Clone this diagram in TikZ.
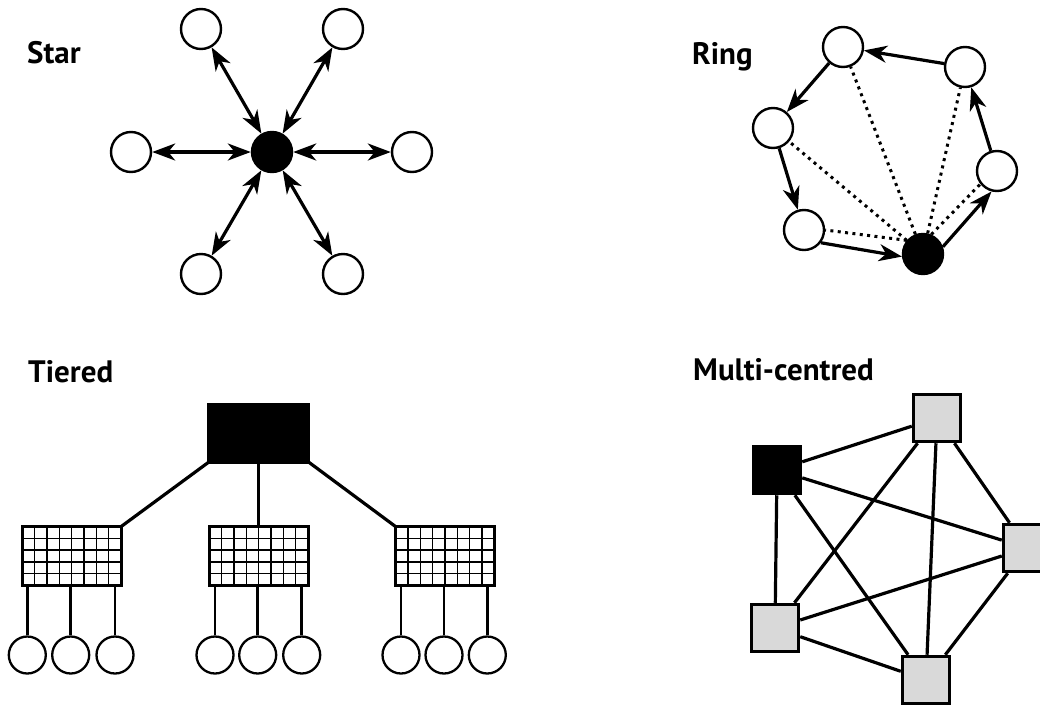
\documentclass[tikz,border=0pt]{standalone}
\usepackage{fontspec}
\setmainfont{PT Sans}
\usetikzlibrary{arrows.meta}

\begin{document}
\begin{tikzpicture}[x=1pt,y=1pt,
  title/.style={anchor=base west, inner sep=0pt, font=\fontsize{31}{31}\selectfont\bfseries},
  host/.style={circle, draw, line width=2.4pt, inner sep=0pt, minimum size=40pt},
  hub/.style={host, fill=black},
  leaf/.style={circle, draw, line width=2.3pt, inner sep=0pt, minimum size=37pt},
  link/.style={line width=3.2pt},
  stub/.style={line width=2.6pt},
  both/.style={link, {Stealth[length=23pt,width=17pt,inset=7pt]}-{Stealth[length=23pt,width=17pt,inset=7pt]}},
  one/.style={link, -{Stealth[length=23pt,width=17pt,inset=7pt]}},
  spoke/.style={line width=3pt, dash pattern=on 3pt off 4.4pt},
  mainframe/.style={draw, fill=black, line width=2pt, inner sep=0pt, outer sep=0pt,
    minimum width=101pt, minimum height=59pt},
  gridbox/.style={draw, fill=white, line width=3pt, inner sep=0pt, outer sep=0pt,
    minimum width=99pt, minimum height=59pt},
  peer/.style={rectangle, draw, fill=black!15, line width=3pt, inner sep=0pt,
    minimum size=47.5pt}]
\useasboundingbox (0,0) rectangle (1040,-707);
\clip (0,0) rectangle (1040,-707);

% Star
\node[title] (tstar) at (27,-63) {Star};
\node[hub] (sc) at (272,-152) {};
\node[host] (s1) at (201,-29) {};
\node[host] (s2) at (343,-29) {};
\node[host] (s3) at (131,-152) {};
\node[host] (s4) at (412,-152) {};
\node[host] (s5) at (201,-274) {};
\node[host] (s6) at (343,-274) {};
\foreach \n in {s1,s2,s3,s4,s5,s6}
  \draw[both] (\n) -- (sc);

% Ring
\node[title] (tring) at (692,-64) {Ring};
\node[host] (r1) at (843,-47) {};
\node[host] (r2) at (965,-67) {};
\node[host] (r3) at (773,-128) {};
\node[host] (r4) at (997,-171) {};
\node[host] (r5) at (804,-230) {};
\node[hub] (rc) at (923,-254) {};
\draw[spoke] (rc) -- (r1);
\draw[spoke] (rc) -- (r2);
\draw[spoke] (rc) -- (r3);
\draw[spoke] (rc.140) -- (r5.east);
\draw[spoke] (rc.67) -- (r4.218);
\draw[one] (r2) -- (r1);
\draw[one] (r1) -- (r3);
\draw[one] (r3) -- (r5);
\draw[one] (r5.-37) -- (rc.187);
\draw[one] (rc.20) -- (r4.255);
\draw[one] (r4) -- (r2);

% Tiered
\node[title] (ttier) at (28,-382) {Tiered};
\node[mainframe] (core) at (258.7,-433) {};
\node[gridbox] (d1) at (71.7,-556) {};
\node[gridbox] (d2) at (258.7,-556) {};
\node[gridbox] (d3) at (445,-556) {};
\foreach \g in {d1,d2,d3} {
  \foreach \i in {1,...,7}
    \draw[line width=1.3pt] ([xshift=\i*12.375pt]\g.south west) -- ([xshift=\i*12.375pt]\g.north west);
  \foreach \j in {1,...,4}
    \draw[line width=1.3pt] ([yshift=\j*11.8pt]\g.south west) -- ([yshift=\j*11.8pt]\g.south east);
}
\draw[link] (core.south west) -- (d1.north east);
\draw[link] (core.south) -- (d2.north);
\draw[link] (core.south east) -- (d3.north west);
\foreach \n/\px/\g in {l1/27.3/d1, l2/70.7/d1, l3/115/d1,
                       l4/215/d2, l5/257.7/d2, l6/301.7/d2,
                       l7/401/d3, l8/444/d3, l9/487.3/d3} {
  \node[leaf] (\n) at (\px,-655) {};
  \draw[stub] (\n.north) -- (\n.north |- \g.south);
}

% Multi-centred
\node[title] (tmulti) at (693,-380) {Multi-centred};
\node[peer, fill=black] (m1) at (777,-470) {};
\node[peer] (m2) at (937,-418) {};
\node[peer] (m3) at (1027,-548) {};
\node[peer] (m4) at (775,-628) {};
\node[peer] (m5) at (926,-680) {};
\foreach \a/\b in {m1/m2,m1/m3,m1/m4,m1/m5,m2/m3,m2/m4,m2/m5,m3/m4,m3/m5,m4/m5}
  \draw[link] (\a) -- (\b);
\end{tikzpicture}
\end{document}
